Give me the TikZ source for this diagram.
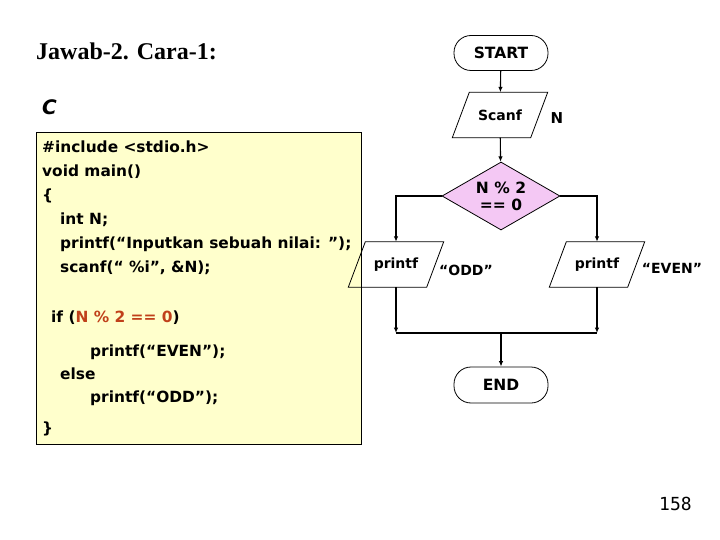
\documentclass[tikz,border=0pt]{standalone}
\usepackage{fontspec}
\setmainfont{DejaVu Sans}
\newfontfamily\titlefont{Liberation Serif}
\newfontfamily\pagefont{DejaVu Sans Mono}
\usetikzlibrary{shapes.geometric,arrows.meta}
\definecolor{codebg}{HTML}{FFFFCC}
\definecolor{diapink}{HTML}{F4C8F4}
\definecolor{condred}{HTML}{C0401A}
\tikzset{
 fc/.style={font=\fontsize{14}{16}\selectfont\bfseries},
 fcbig/.style={font=\fontsize{15.5}{17}\selectfont\bfseries},
 term/.style={fcbig,draw,rounded corners=17pt,minimum width=94pt,minimum height=35pt,inner sep=0pt,line width=0.8pt},
 io/.style={fc,minimum width=78pt,minimum height=45pt,inner sep=0pt},
 ioline/.style={line width=0.8pt},
 dec/.style={fcbig,draw,diamond,fill=diapink,aspect=1.74,minimum width=118pt,minimum height=68pt,inner sep=0pt,align=center,line width=0.8pt},
 conn/.style={line width=1.1pt},
 arr/.style={conn,-{Latex[length=5.5pt,width=4.5pt]}},
 code/.style={anchor=base west,inner sep=0pt,font=\fontsize{15.4}{18}\selectfont\bfseries},
 lbl/.style={fc,inner sep=0pt},
}
\newcommand\parabox[1]{\draw[ioline] ([xshift=-8.5pt]#1.south west) -- ([xshift=8.5pt]#1.north west) -- ([xshift=8.5pt]#1.north east) -- ([xshift=-8.5pt]#1.south east) -- cycle;}
\begin{document}
\begin{tikzpicture}[x=1pt,y=-1pt]
\useasboundingbox (0,0) rectangle (720,540);
\node[anchor=base west,inner sep=0pt,font=\titlefont\fontsize{24}{28}\selectfont\bfseries] (title) at (36,60) {Jawab-2. Cara-1:};
\node[anchor=base west,inner sep=0pt,font=\fontsize{20}{24}\selectfont\bfseries\itshape] (clang) at (42,115) {C};
\node[draw,fill=codebg,line width=0.8pt,minimum width=325pt,minimum height=312pt,anchor=north west,inner sep=0pt] (codebox) at (36,132) {};
\node[code] (l1) at (42,153) {\#include <stdio.h>};
\node[code] (l2) at (42,177) {void main()};
\node[code] (l3) at (42,201) {\{};
\node[code] (l4) at (60,225) {int N;};
\node[code] (l5) at (60,248) {printf(“Inputkan sebuah nilai: ”);};
\node[code] (l6) at (60,272) {scanf(“ \%i”, \&N);};
\node[code] (l7) at (51,322) {if (\textcolor{condred}{N \% 2 == 0})};
\node[code] (l8) at (90,356) {printf(“EVEN”);};
\node[code] (l9) at (60,379) {else};
\node[code] (l10) at (90,402) {printf(“ODD”);};
\node[code] (l11) at (42,433) {\}};
% flowchart
\node[term] (start) at (501,53) {START};
\node[io] (scanf) at (500,115) {Scanf};
\parabox{scanf}
\node[lbl,font=\fontsize{15}{17}\selectfont\bfseries] (nlab) at (557,118) {N};
\node[dec] (cond) at (501,196) {N \% 2\\== 0};
\node[io] (podd) at (396,264.5) {printf};
\parabox{podd}
\node[io] (peven) at (597,264.5) {printf};
\parabox{peven}
\node[lbl] (odd) at (466,270) {“ODD”};
\node[lbl] (even) at (672,268) {“EVEN”};
\node[term,minimum height=36pt] (end) at (501,385) {END};
\coordinate (jl) at (396,333);
\coordinate (jr) at (597,333);
\coordinate (jm) at (501,333);
\draw[arr] (start) -- (scanf);
\draw[arr] (scanf) -- (cond);
\draw[arr] (cond.west) -| (podd.north);
\draw[arr] (cond.east) -| (peven.north);
\draw[arr] (podd.south) -- (jl);
\draw[arr] (peven.south) -- (jr);
\draw[conn] (jl) -- (jr);
\draw[arr] (jm) -- (end.north);
\node[anchor=base west,inner sep=0pt,font=\pagefont\fontsize{18}{20}\selectfont] (page) at (659,510) {158};
\end{tikzpicture}
\end{document}
